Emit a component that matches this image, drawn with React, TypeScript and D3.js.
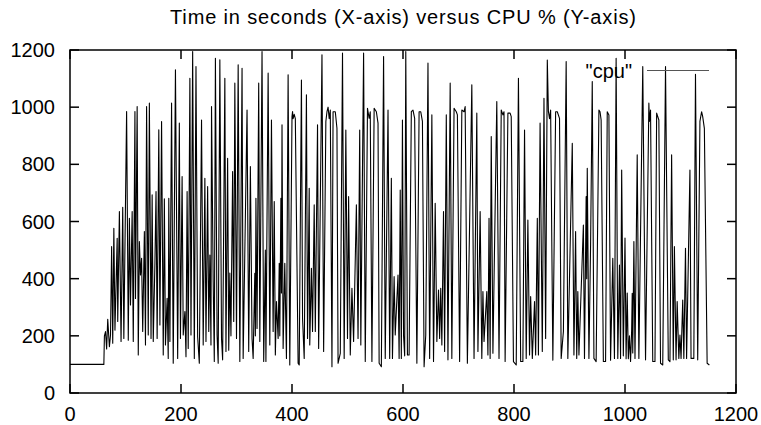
import * as d3 from "d3";

type Pt = [number, number];

// CPU % samples, [seconds, cpu%]
const warmup: Pt[] = [
  [0, 100], [61, 100], [62, 200], [64, 215], [66, 154], [68, 258], [71, 162], [73, 203],
  [75, 512], [77, 174], [79, 576], [81, 220], [85, 541], [86, 250], [89, 635], [92, 180],
  [95, 650], [97, 191], [102, 985], [105, 185], [107, 611], [109, 308], [112, 635], [114, 180],
  [117, 985], [118, 331], [121, 1002], [123, 133], [125, 530], [127, 413], [129, 471], [131, 215],
  [134, 565], [136, 168], [138, 1002], [141, 203], [143, 1014],
];

const phase1: Pt[] = [
  [146, 191], [148, 693], [150, 180], [153, 454], [155, 705], [157, 191], [160, 921], [162, 238],
  [165, 950], [168, 133], [170, 679], [172, 168], [175, 331], [177, 121], [178, 681], [180, 180],
  [183, 1014], [186, 104], [190, 1131], [194, 121], [197, 944], [199, 191], [202, 757], [204, 203],
  [207, 285], [209, 127], [211, 705], [213, 156], [216, 1101], [218, 203], [221, 1195], [224, 121],
  [227, 1142], [230, 197], [233, 104], [237, 955], [240, 168], [243, 751], [245, 180], [248, 722],
  [250, 215], [252, 483], [254, 168], [255, 1002], [258, 390], [260, 110], [262, 1171], [265, 203],
  [267, 104], [270, 1166], [273, 191], [275, 116], [279, 1101], [281, 145], [284, 821], [286, 150],
  [288, 420], [290, 200],
];

const phase2: Pt[] = [
  [293, 775], [295, 250], [297, 1084], [300, 191], [303, 1148], [306, 110], [310, 1136], [312, 121],
  [319, 990], [322, 145], [325, 792], [328, 191], [330, 121], [333, 419], [334, 200], [335, 681],
  [337, 226], [340, 1084], [342, 180], [346, 1195], [349, 110], [352, 500], [353, 110], [357, 1119],
  [360, 168], [363, 955], [366, 215], [368, 670], [370, 133], [372, 320], [375, 191], [377, 454],
  [378, 200], [380, 681], [381, 350], [382, 938], [384, 156], [387, 454], [390, 121], [393, 1113],
  [396, 98], [400, 967], [401, 985], [402, 960], [404, 975], [406, 960], [411, 104], [413, 98],
  [417, 1095], [419, 261], [422, 121], [426, 1043], [428, 191], [431, 716],
];

const phase3: Pt[] = [
  [432, 168], [435, 436], [437, 215], [440, 658], [442, 215], [446, 938], [448, 156], [454, 1183],
  [457, 145], [461, 950], [463, 984], [465, 1000], [467, 960], [469, 990], [472, 92], [474, 984],
  [478, 984], [481, 926], [483, 104], [487, 139], [491, 1189], [494, 121], [497, 920], [500, 191],
  [502, 687], [505, 133], [508, 366], [511, 180], [516, 658], [519, 191], [522, 920], [524, 168],
  [529, 1189], [532, 110], [536, 996], [539, 961], [541, 984], [544, 110], [548, 996], [552, 984],
  [555, 944], [557, 104], [561, 92], [565, 1177], [568, 121], [573, 990],
];

const phase4: Pt[] = [
  [576, 121], [579, 751], [581, 121], [584, 407], [586, 203], [591, 413], [593, 121], [595, 710],
  [597, 121], [599, 955], [601, 200], [603, 130], [605, 1195], [608, 133], [611, 133], [615, 984],
  [618, 990], [621, 961], [625, 104], [629, 984], [632, 984], [635, 950], [638, 92], [641, 203],
  [645, 1154], [648, 121], [652, 973], [655, 110], [658, 664], [661, 180], [664, 360], [666, 191],
  [668, 366], [670, 168], [673, 635], [675, 145], [678, 973], [681, 116], [685, 1084], [688, 121],
  [692, 996], [696, 984], [698, 973], [702, 110], [706, 990], [710, 984], [712, 1002], [716, 104],
];

const phase5: Pt[] = [
  [724, 1078], [728, 121], [733, 979], [735, 145], [739, 635], [742, 121], [744, 355], [746, 180],
  [751, 355], [753, 133], [755, 611], [757, 121], [759, 897], [762, 139], [769, 1020], [773, 121],
  [777, 990], [780, 973], [782, 984], [784, 110], [789, 979], [793, 979], [795, 967], [799, 110],
  [804, 98], [808, 1101], [812, 110], [816, 110], [819, 920], [822, 121], [825, 605], [828, 133],
  [830, 337], [833, 121], [837, 320], [839, 133], [842, 611], [844, 133], [847, 944], [851, 145],
  [854, 1031], [857, 191], [860, 1165],
];

const phase6: Pt[] = [
  [862, 985], [864, 960], [866, 990], [870, 115], [875, 984], [878, 984], [882, 961], [885, 121],
  [889, 215], [894, 1160], [897, 121], [905, 874], [908, 133], [911, 565], [913, 121], [915, 355],
  [917, 133], [925, 588], [927, 121], [930, 687], [931, 400], [932, 786], [935, 121], [938, 518],
  [941, 1090], [944, 121], [948, 110], [953, 990], [955, 984], [957, 955], [961, 110], [965, 110],
  [968, 984], [971, 973], [974, 115], [978, 471], [981, 121], [984, 1171], [987, 121], [990, 448],
  [992, 121], [994, 780], [997, 130], [1000, 542], [1002, 120], [1004, 350], [1006, 120],
  [1008, 200], [1010, 110], [1012, 220],
];

const phase7: Pt[] = [
  [1013, 349], [1014, 140], [1016, 530], [1018, 121], [1022, 833], [1025, 121], [1032, 1142],
  [1037, 116], [1043, 1014], [1044, 950], [1046, 990], [1050, 110], [1054, 110], [1057, 979],
  [1061, 955], [1064, 104], [1068, 98], [1073, 1142], [1078, 116], [1081, 110], [1084, 833],
  [1087, 116], [1089, 512], [1092, 116], [1094, 320], [1097, 121], [1099, 203], [1101, 121],
  [1104, 325], [1106, 121], [1109, 506], [1111, 121], [1117, 780], [1119, 121], [1124, 121],
  [1127, 1115], [1131, 116], [1135, 950], [1138, 984], [1140, 967], [1143, 926], [1148, 104],
  [1152, 98],
];

const cpu: Pt[] = [...warmup, ...phase1, ...phase2, ...phase3, ...phase4, ...phase5, ...phase6, ...phase7];

const xTicks = [0, 200, 400, 600, 800, 1000, 1200];
const yTicks = [0, 200, 400, 600, 800, 1000, 1200];

const title = "Time in seconds (X-axis) versus CPU % (Y-axis)";
const seriesName = '"cpu"';

export default function App() {
  const width = 761;
  const height = 425;
  const left = 70, right = 736, top = 50, bottom = 393;
  const tickLen = 9;
  const font = "'Liberation Sans', Arial, Helvetica, sans-serif";

  const x = d3.scaleLinear().domain([0, 1200]).range([left, right]);
  const y = d3.scaleLinear().domain([0, 1200]).range([bottom, top]);

  const line = d3
    .line<Pt>()
    .x((d) => x(d[0]))
    .y((d) => y(d[1]));

  return (
    <svg
      width={width}
      height={height}
      style={{ position: "absolute", left: 0, top: 0, background: "#fff" }}
      fontFamily={font}
      fontSize={20}
    >
      <rect x={0} y={0} width={width} height={height} fill="#fff" />
      <text x={(left + right) / 2} y={24} textAnchor="middle" textLength={466} lengthAdjust="spacing">
        {title}
      </text>

      {/* data */}
      <path d={line(cpu) || ""} fill="none" stroke="#000" strokeWidth={1.1} strokeLinejoin="round" />

      {/* ticks, mirrored on all sides */}
      <g stroke="#000" strokeWidth={1.5}>
        {yTicks.map((t) => (
          <g key={"y" + t}>
            <line x1={left} x2={left + tickLen} y1={y(t)} y2={y(t)} />
            <line x1={right} x2={right - tickLen} y1={y(t)} y2={y(t)} />
          </g>
        ))}
        {xTicks.map((t) => (
          <g key={"x" + t}>
            <line x1={x(t)} x2={x(t)} y1={bottom} y2={bottom - tickLen} />
            <line x1={x(t)} x2={x(t)} y1={top} y2={top + tickLen} />
          </g>
        ))}
      </g>

      {yTicks.map((t) => (
        <text key={"yl" + t} x={55} y={y(t) + 7} textAnchor="end">
          {t}
        </text>
      ))}
      {xTicks.map((t) => (
        <text key={"xl" + t} x={x(t)} y={421} textAnchor="middle">
          {t}
        </text>
      ))}

      {/* legend */}
      <text x={632} y={78} textAnchor="end">
        {seriesName}
      </text>
      <line x1={647} x2={709} y1={70.5} y2={70.5} stroke="#555" strokeWidth={1} />

      <rect
        x={left}
        y={top}
        width={right - left}
        height={bottom - top}
        fill="none"
        stroke="#000"
        strokeWidth={1.5}
      />
    </svg>
  );
}
